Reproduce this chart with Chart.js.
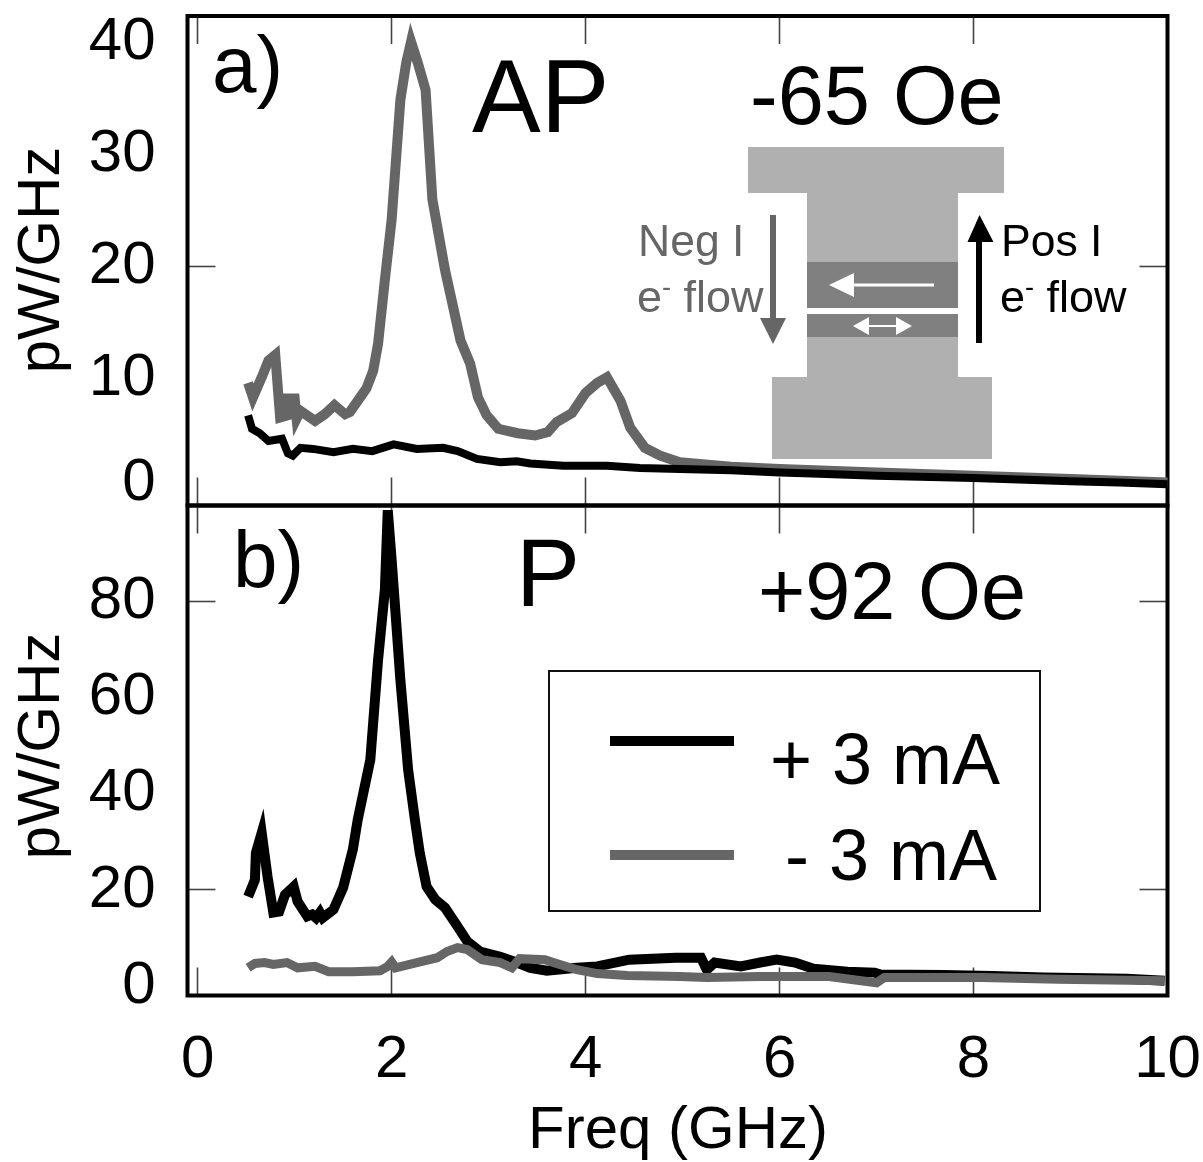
<!DOCTYPE html>
<html>
  <head>
    <meta charset="utf-8">
    <script src="https://cdn.jsdelivr.net/npm/chart.js@4/dist/chart.umd.min.js"></script>
    <style>
      html, body { margin: 0; padding: 0; background: #fff; }
      #page { position: relative; width: 1203px; height: 1162px; overflow: hidden; }
      canvas { position: absolute; left: 0; top: 0; }
      svg { position: absolute; left: 0; top: 0; }
      .txt { position: absolute; white-space: nowrap; line-height: 1; font-family: "Liberation Sans", Arial, sans-serif; }
      .txt sup { font-size: 0.6em; line-height: 0; }
      #legendBox { position: absolute; left: 548px; top: 670px; width: 489px; height: 238px; border: 2.5px solid #111; background: #fff; }
      .legLine { position: absolute; left: 610px; width: 124px; height: 10px; }
    </style>
  </head>
  <body>
    <div id="page">
      <canvas id="panelA" width="1203" height="1162"></canvas>
      <canvas id="panelB" width="1203" height="1162"></canvas>
      <svg width="1203" height="1162">
        <rect x="748" y="147" width="256" height="46" fill="#b0b0b0"/>
        <rect x="807" y="193" width="151" height="184" fill="#b0b0b0"/>
        <rect x="772" y="377" width="220" height="82" fill="#b0b0b0"/>
        <rect x="807" y="262" width="151" height="46" fill="#808080"/>
        <rect x="807" y="308" width="151" height="6" fill="#fff"/>
        <rect x="807" y="314" width="151" height="23" fill="#808080"/>
        <path d="M934 283.5H854V273L829 285L854 297V286.5H934Z" fill="#fff"/>
        <path d="M853 326L869 317V325H896V317L912 326L896 335V327H869V335Z" fill="#fff"/>
        <path d="M770 215H776V318H786L773 344L760 318H770Z" fill="#666"/>
        <path d="M976 343H982V242H993.5L979.5 215L967.5 242H976Z" fill="#000"/>
      </svg>
      <div id="legendBox"></div>
      <div class="legLine" style="top:736px;background:#000"></div>
      <div class="legLine" style="top:850px;background:#666"></div>
    </div>
    <script>
      // panel a) AP, -65 Oe
      var apGrayFreq = [0.52,0.57,0.66,0.73,0.80,0.85,0.93,0.93,1.0,1.02,1.06,1.21,1.31,1.41,1.52,1.57,1.74,1.81,1.86,1.93,2.0,2.09,2.15,2.2,2.27,2.35,2.42,2.55,2.71,2.81,2.89,2.98,3.10,3.3,3.48,3.61,3.70,3.86,4.0,4.12,4.22,4.36,4.46,4.61,4.77,4.97,5.5,6.0,7.0,8.0,9.0,10.0];
      var apGray = [9.6,8.3,10.1,11.6,12.1,6.5,6.7,8.2,8.2,6.4,7.1,6.2,6.8,7.6,6.8,7.0,9.1,10.7,13.1,18.8,24.2,34.9,38.2,40.1,38.2,35.8,26,19.7,13.4,11.3,8.3,6.7,5.5,5.1,4.9,5.2,6.1,6.9,8.7,9.6,10.1,8.0,5.6,3.8,3.1,2.5,2.1,1.9,1.6,1.3,1.0,0.7];
      var apBlackFreq = [0.52,0.56,0.64,0.73,0.87,0.93,0.98,1.06,1.19,1.40,1.6,1.8,2.02,2.26,2.53,2.68,2.88,3.12,3.29,3.43,3.77,4.22,4.56,4.97,5.5,6.0,6.33,7.0,8.0,9.0,9.5,10.0];
      var apBlack = [6.7,5.5,5.1,4.4,4.6,3.3,3.1,3.8,3.7,3.4,3.7,3.5,4.1,3.7,3.8,3.5,2.8,2.5,2.6,2.4,2.2,2.2,2.0,1.9,1.8,1.6,1.5,1.3,1.1,0.8,0.7,0.55];

      // panel b) P, +92 Oe
      var pBlackFreq = [0.52,0.59,0.6,0.66,0.72,0.78,0.84,0.9,0.99,1.03,1.13,1.18,1.22,1.26,1.29,1.4,1.5,1.6,1.65,1.78,1.86,1.93,1.96,2.0,2.09,2.17,2.24,2.29,2.36,2.45,2.55,2.68,2.78,2.91,3.12,3.29,3.43,3.6,3.91,4.12,4.45,4.93,5.19,5.25,5.33,5.6,5.8,5.97,6.16,6.35,6.7,6.98,7.04,7.69,8.2,8.72,9.58,9.97];
      var pBlack = [18.6,22.1,27.7,31.9,22.8,15.3,15.5,19,20.7,17.6,14.5,14.9,14.2,15.3,14.2,15.9,20.5,28.4,34.6,47.1,67.9,82.4,99,88.7,63.7,45,34.6,27.7,20.7,18,16.3,12.4,9.3,7.2,6.1,4.9,3.8,3.2,3.8,4.1,5.5,5.9,5.9,3.4,4.9,4.1,4.9,5.5,4.9,3.6,3.0,2.8,2.4,2.3,2.1,1.8,1.5,1.1];
      var pGrayFreq = [0.52,0.59,0.69,0.78,0.92,1.03,1.21,1.35,1.6,1.88,1.96,2.0,2.04,2.26,2.47,2.57,2.68,2.78,2.93,3.12,3.24,3.32,3.58,3.7,3.91,4.12,4.43,4.97,5.25,5.8,6.51,7.0,7.08,8.09,8.87,9.97];
      var pGray = [3.8,4.7,4.9,4.5,4.9,3.8,4.1,3.0,3.0,3.2,4.1,5,3.8,4.9,5.9,7.2,8,7.6,5.5,4.9,3.8,5.7,5.5,4.7,3.4,2.6,2.2,2.0,1.8,2,2,0.7,1.8,1.8,1.4,1.1];

      // axes
      var freqTicks = [0, 2, 4, 6, 8, 10];
      var apTicks = [0.65, 10, 20, 30, 40];
      var apTickLabels = ['0', '10', '20', '30', '40'];
      var apMarked = [20];
      var pTicks = [0, 20, 40, 60, 80];
      var pTickLabels = ['0', '20', '40', '60', '80'];
      var pMarked = [20, 80];

      var GRAY = '#666666';
      var BLACK = '#000000';

      function toPoints(xs, ys) {
        return xs.map(function (x, i) { return { x: x, y: ys[i] }; });
      }

      function curve(xs, ys, color, width) {
        return {
          data: toPoints(xs, ys),
          borderColor: color,
          borderWidth: width,
          pointRadius: 0,
          tension: 0,
          borderJoinStyle: 'miter',
          clip: 6
        };
      }

      // black frame round the plot area
      var framePlugin = {
        id: 'frame',
        beforeDatasetsDraw: function (chart) {
          var a = chart.chartArea, c = chart.ctx;
          c.save();
          c.strokeStyle = '#000';
          c.lineWidth = 4;
          c.strokeRect(a.left, a.top, a.right - a.left, a.bottom - a.top);
          c.restore();
        }
      };

      function tickLines(marked) {
        return {
          drawOnChartArea: false,
          tickLength: -28,
          tickWidth: 1.6,
          tickColor: function (ctx) {
            if (!marked) return '#444';
            return marked.indexOf(ctx.tick.value) >= 0 ? '#444' : 'rgba(0,0,0,0)';
          }
        };
      }

      function fixedTicks(values) {
        return function (scale) {
          scale.ticks = values.map(function (v) { return { value: v }; });
        };
      }

      // the large tick padding must not push the plot area in
      function sizeAxis(prop, size) {
        return function (s) {
          s[prop] = size;
          s.paddingLeft = s.paddingRight = s.paddingTop = s.paddingBottom = 0;
        };
      }

      function makePanel(id, datasets, area, yMin, yMax, yVals, yLabels, marked, showFreq) {
        var labelFont = { family: '"Liberation Sans"', size: 60 };
        var xScale = {
          type: 'linear', min: -0.105, max: 10,
          afterBuildTicks: fixedTicks(freqTicks),
          afterFit: sizeAxis('height', 1162 - area.bottom),
          border: { display: false },
          grid: tickLines(null),
          ticks: {
            display: showFreq, font: labelFont, color: '#000', padding: 57, maxRotation: 0, autoSkip: false,
            callback: function (v) { return String(v); }
          }
        };
        var xTop = {
          type: 'linear', position: 'top', min: -0.105, max: 10,
          afterBuildTicks: fixedTicks(freqTicks),
          afterFit: sizeAxis('height', area.top),
          border: { display: false },
          grid: tickLines(null),
          ticks: { display: false }
        };
        var yScale = {
          type: 'linear', min: yMin, max: yMax,
          afterBuildTicks: fixedTicks(yVals),
          afterFit: sizeAxis('width', area.left),
          border: { display: false },
          grid: tickLines(marked),
          ticks: {
            font: labelFont, color: '#000', padding: 60, autoSkip: false,
            callback: function (v) { return yLabels[yVals.indexOf(v)]; }
          }
        };
        var yRight = {
          type: 'linear', position: 'right', min: yMin, max: yMax,
          afterBuildTicks: fixedTicks(yVals),
          afterFit: sizeAxis('width', 1203 - area.right),
          border: { display: false },
          grid: tickLines(marked),
          ticks: { display: false }
        };
        return new Chart(document.getElementById(id), {
          type: 'line',
          data: { datasets: datasets },
          options: {
            responsive: false,
            animation: false,
            parsing: false,
            layout: { padding: 0 },
            plugins: { legend: { display: false }, tooltip: { enabled: false } },
            scales: { x: xScale, xTop: xTop, y: yScale, yRight: yRight }
          },
          plugins: [framePlugin]
        });
      }

      // first dataset is drawn last: black on top in a), gray on top in b)
      makePanel('panelA', [
        curve(apBlackFreq, apBlack, BLACK, 8),
        curve(apGrayFreq, apGray, GRAY, 10)
      ], { left: 187.5, right: 1167.5, top: 16, bottom: 505.5 }, -1.36, 42.4, apTicks, apTickLabels, apMarked, false);

      makePanel('panelB', [
        curve(pGrayFreq, pGray, GRAY, 9),
        curve(pBlackFreq, pBlack, BLACK, 10)
      ], { left: 187.5, right: 1167.5, top: 505.5, bottom: 995.5 }, -1.96, 100, pTicks, pTickLabels, pMarked, true);

      // text over the plots: [html, left, baseline, size, colour]
      var labels = [
        ['a)', 212, 93, 80, '#000'],
        ['AP', 472, 132, 103, '#000'],
        ['-65 Oe', 750, 124, 83, '#000'],
        ['b)', 233, 588, 80, '#000'],
        ['P', 516, 606, 96, '#000'],
        ['+92 Oe', 758, 620, 81, '#000'],
        ['+ 3 mA', 770, 784, 72, '#000'],
        ['- 3 mA', 785, 880, 72, '#000'],
        ['Neg I', 638, 257, 44.5, '#666'],
        ['e<sup>-</sup> flow', 637, 312, 45, '#666'],
        ['Pos I', 1001, 257, 44.5, '#000'],
        ['e<sup>-</sup> flow', 1000, 312, 45, '#000'],
        ['Freq (GHz)', 528, 1149, 60, '#000']
      ];
      var page = document.getElementById('page');
      function addText(html, x, base, size, color) {
        var d = document.createElement('div');
        d.className = 'txt';
        d.innerHTML = html;
        d.style.left = x + 'px';
        d.style.top = (base - 0.8465 * size) + 'px';
        d.style.fontSize = size + 'px';
        d.style.color = color;
        page.appendChild(d);
        return d;
      }
      labels.forEach(function (l) { addText(l[0], l[1], l[2], l[3], l[4]); });

      // rotated axis titles
      [260, 746].forEach(function (mid) {
        var d = addText('pW/GHz', 0, 0, 60, '#000');
        d.style.left = '39px';
        d.style.top = mid + 'px';
        d.style.transform = 'translate(-50%, -50%) rotate(-90deg)';
      });
    </script>
  </body>
</html>
